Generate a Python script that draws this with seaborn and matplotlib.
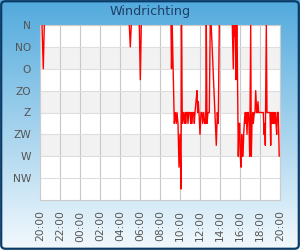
import numpy as np
import pandas as pd
import matplotlib
matplotlib.use("Agg")
import matplotlib.pyplot as plt
import seaborn as sns
from matplotlib.patches import FancyBboxPatch
from matplotlib.colors import LinearSegmentedColormap

# ---- data: hours after 20:00, wind direction in degrees (0 = N) ----
seg1_hours = [0.20, 0.33, 0.43]
seg1_deg = [0, 90, 0]

seg2_hours = [8.93, 9.03, 9.13]
seg2_deg = [0, 45, 0]

seg3_hours = [9.93, 10.03, 10.13]
seg3_deg = [0, 112.5, 0]

seg4_hours = [13.10, 13.15, 13.22, 13.43, 13.53, 13.63, 13.70, 13.80, 13.90, 14.00,
              14.10, 14.15, 14.23, 14.33, 14.43, 14.50, 14.57, 14.63, 14.73, 14.80,
              14.87, 15.00, 15.07, 15.13, 15.20, 15.27, 15.37, 15.43, 15.50, 15.60,
              15.70, 15.77, 15.83, 15.90, 16.00, 16.10, 16.20, 16.27, 16.37, 16.47,
              16.57, 16.63, 16.70, 16.80, 16.93, 17.02, 17.12, 17.63, 17.73, 17.83,
              17.93]
seg4_deg = [0, 90, 0, 202.5, 180, 202.5, 180, 202.5, 292.5, 225,
            337.5, 0, 202.5, 180, 202.5, 180, 202.5, 180, 180, 202.5,
            180, 180, 202.5, 180, 202.5, 180, 180, 202.5, 180, 157.5,
            135, 180, 157.5, 180, 225, 180, 180, 202.5, 180, 202.5,
            202.5, 0, 202.5, 180, 180, 0, 0, 247.5, 180, 202.5,
            0]

seg5_hours = [19.23, 19.33, 19.40, 19.47, 19.53, 19.60, 19.65, 19.70, 19.83, 19.90,
              19.97, 20.03, 20.10, 20.17, 20.23, 20.30, 20.37, 20.43, 20.50, 20.57,
              20.63, 20.70, 20.77, 20.83, 20.90, 20.97, 21.07, 21.13, 21.20, 21.27,
              21.33, 21.43, 21.50, 21.57, 21.67, 21.73, 21.80, 21.87, 21.97, 22.17,
              22.33, 22.40, 22.47, 22.53, 22.63, 22.70, 23.00, 23.07, 23.13, 23.20,
              23.27, 23.33, 23.40, 23.47, 23.53, 23.60, 23.67, 23.73, 23.83, 23.92]
seg5_deg = [0, 90, 0, 22.5, 0, 112.5, 0, 0, 270, 202.5,
            202.5, 270, 292.5, 225, 270, 270, 225, 202.5, 180, 202.5,
            180, 225, 180, 180, 202.5, 270, 0, 270, 202.5, 180,
            202.5, 180, 180, 135, 180, 180, 157.5, 180, 180, 180,
            180, 225, 202.5, 247.5, 0, 180, 180, 247.5, 180, 202.5,
            180, 202.5, 180, 202.5, 180, 202.5, 225, 180, 180, 270]

x_tick_labels = ["20:00", "22:00", "00:00", "02:00", "04:00", "06:00", "08:00",
                 "10:00", "12:00", "14:00", "16:00", "18:00", "20:00"]
y_tick_labels = ["N", "NO", "O", "ZO", "Z", "ZW", "W", "NW"]
title = "Windrichting"

segments = [(seg1_hours, seg1_deg), (seg2_hours, seg2_deg), (seg3_hours, seg3_deg),
            (seg4_hours, seg4_deg), (seg5_hours, seg5_deg)]
frames = []
for i, (h, d) in enumerate(segments):
    frames.append(pd.DataFrame({"hours": h, "deg": d, "segment": i}))
df = pd.concat(frames, ignore_index=True)

# ---- figure ----
sns.set_theme(style="white")
plt.rcParams["font.family"] = ["DejaVu Sans"]

fig = plt.figure(figsize=(3, 2.5), dpi=100)

bg = fig.add_axes([0, 0, 1, 1], zorder=0)
bg.axis("off")
cmap = LinearSegmentedColormap.from_list("bg", ["#52aadd", "#f3f9fd"])
grad = np.linspace(0, 1, 256)[:, None]
bg.imshow(grad, aspect="auto", cmap=cmap, extent=[0, 1, 0, 1], origin="upper")
bg.set_xlim(0, 1)
bg.set_ylim(0, 1)
bg.add_patch(FancyBboxPatch((0.004, 0.005), 0.992, 0.99,
                            boxstyle="round,pad=0,rounding_size=0.015",
                            fill=False, ec="#0b3a66", lw=1.6,
                            transform=bg.transAxes))

ax = fig.add_axes([40 / 300, 50 / 250, 240 / 300, 175 / 250], zorder=1)
ax.set_facecolor("white")
for lo in (45, 135, 225):
    ax.axhspan(lo, lo + 45, color="#f2f2f2", zorder=0.1, lw=0)

sns.lineplot(data=df, x="hours", y="deg", units="segment", estimator=None,
             sort=False, color="#ff0000", lw=1.0, ax=ax, zorder=3)

ax.set_xlim(0, 24)
ax.set_ylim(360, 0)
ax.set_xticks(np.arange(0, 25, 2))
ax.set_xticklabels(x_tick_labels, rotation=90)
ax.set_yticks(np.arange(0, 360, 45))
ax.set_yticklabels(y_tick_labels)
ax.set_xlabel("")
ax.set_ylabel("")
ax.set_axisbelow(True)
ax.xaxis.grid(True, color="#c8c8c8", lw=0.8)
ax.yaxis.grid(True, color="#dedede", lw=0.8)
for s in ax.spines.values():
    s.set_color("#cccccc")
    s.set_linewidth(0.8)
ax.tick_params(axis="both", length=0, labelsize=7.7, labelcolor="#555555")
ax.tick_params(axis="y", pad=6.5)
ax.tick_params(axis="x", pad=7.5)

fig.text(0.5, 1 - 12 / 250, title, ha="center", va="center",
         fontsize=9.2, color="#1e3f66")

fig.savefig("out.png", dpi=100)
